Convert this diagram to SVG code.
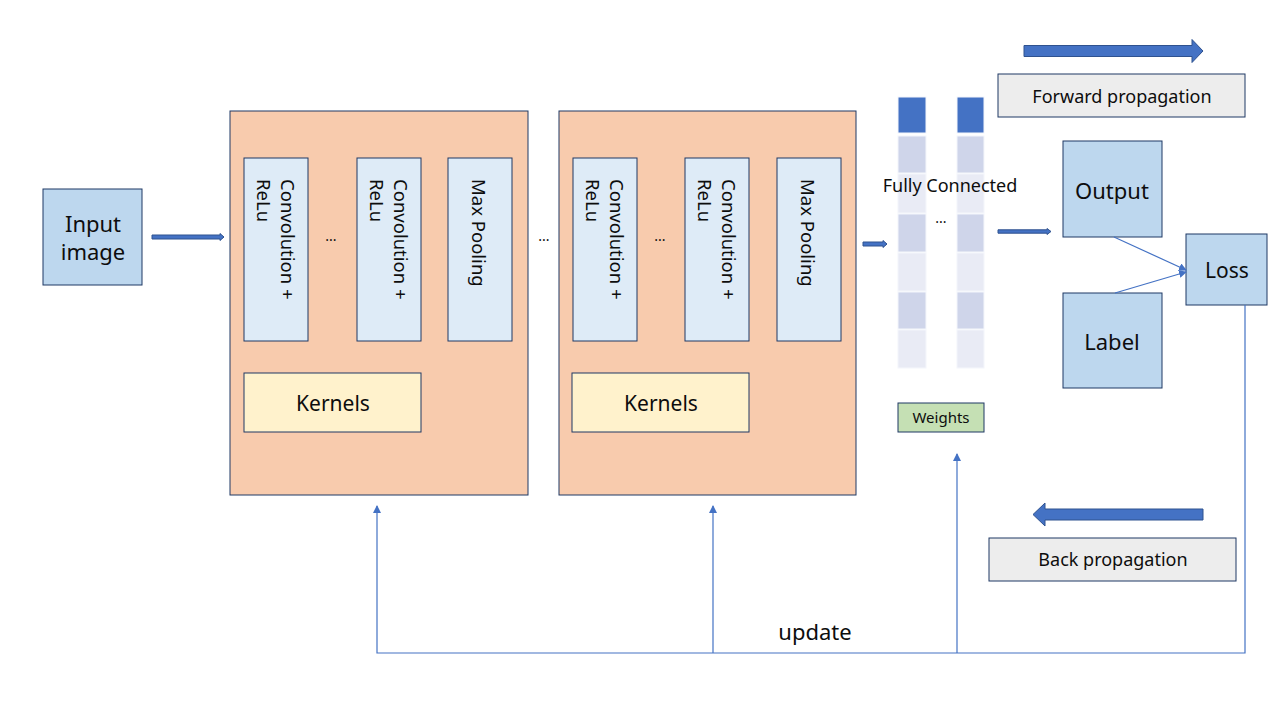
<svg xmlns="http://www.w3.org/2000/svg" width="1280" height="720" viewBox="0 0 1280 720">
<style>
text{font-family:"Noto Sans","Open Sans","Liberation Sans",sans-serif;fill:#0d0d0d}
.nav{stroke:#1f3864;stroke-width:1}
.blk{fill:#f8cbad}
.lb{fill:#deebf7}
.mb{fill:#bdd7ee}
.ker{fill:#fff2cc}
.gr{fill:#ededed}
.ba{fill:#4472c4;stroke:#2f528f;stroke-width:1}
.ln{stroke:#4472c4;stroke-width:1.2;fill:none}
.rot{font-size:18.5px}
.dk{fill:#4472c4}
.md{fill:#cfd5ea}
.lt{fill:#e9ebf5}
</style>
<defs>
<marker id="ah" markerWidth="8" markerHeight="8" refX="7" refY="4" orient="auto" markerUnits="userSpaceOnUse">
<path d="M0,0 L8,4 L0,8 Z" fill="#4472c4"/>
</marker>
</defs>
<rect width="1280" height="720" fill="#fff"/>

<g id="input">
<rect x="43" y="189" width="99" height="96" class="mb nav"/>
<text x="93" y="232" font-size="22" text-anchor="middle">Input</text>
<text x="93" y="260" font-size="22" text-anchor="middle">image</text>
</g>

<g id="block1">
<rect x="230" y="111" width="298" height="384" class="blk nav"/>
<rect x="244" y="158" width="64" height="183" class="lb nav"/>
<text class="rot" transform="translate(281,179) rotate(90)">Convolution +</text>
<text class="rot" transform="translate(257,179) rotate(90)">ReLu</text>
<text x="331" y="241" font-size="14" text-anchor="middle">...</text>
<rect x="357" y="158" width="64" height="183" class="lb nav"/>
<text class="rot" transform="translate(394,179) rotate(90)">Convolution +</text>
<text class="rot" transform="translate(370,179) rotate(90)">ReLu</text>
<rect x="448" y="158" width="64" height="183" class="lb nav"/>
<text class="rot" transform="translate(472,179) rotate(90)">Max Pooling</text>
<rect x="244" y="373" width="177" height="59" class="ker nav"/>
<text x="333" y="411" font-size="21" text-anchor="middle">Kernels</text>
</g>

<text x="544" y="241" font-size="14" text-anchor="middle">...</text>

<g id="block2">
<rect x="559" y="111" width="297" height="384" class="blk nav"/>
<rect x="573" y="158" width="64" height="183" class="lb nav"/>
<text class="rot" transform="translate(610,179) rotate(90)">Convolution +</text>
<text class="rot" transform="translate(586,179) rotate(90)">ReLu</text>
<text x="660" y="241" font-size="14" text-anchor="middle">...</text>
<rect x="685" y="158" width="64" height="183" class="lb nav"/>
<text class="rot" transform="translate(722,179) rotate(90)">Convolution +</text>
<text class="rot" transform="translate(698,179) rotate(90)">ReLu</text>
<rect x="777" y="158" width="64" height="183" class="lb nav"/>
<text class="rot" transform="translate(801,179) rotate(90)">Max Pooling</text>
<rect x="572" y="373" width="177" height="59" class="ker nav"/>
<text x="661" y="411" font-size="21" text-anchor="middle">Kernels</text>
</g>

<g id="fc">
<g stroke="#f4f6fb" stroke-width="1">
<rect x="898" y="97" width="28" height="36" class="dk"/>
<rect x="898" y="136" width="28" height="37" class="md"/>
<rect x="898" y="174" width="28" height="39" class="lt"/>
<rect x="898" y="214" width="28" height="38" class="md"/>
<rect x="898" y="253" width="28" height="38" class="lt"/>
<rect x="898" y="292" width="28" height="37" class="md"/>
<rect x="898" y="330" width="28" height="38" class="lt"/>
<rect x="957" y="97" width="27" height="36" class="dk"/>
<rect x="957" y="136" width="27" height="37" class="md"/>
<rect x="957" y="174" width="27" height="39" class="lt"/>
<rect x="957" y="214" width="27" height="38" class="md"/>
<rect x="957" y="253" width="27" height="38" class="lt"/>
<rect x="957" y="292" width="27" height="37" class="md"/>
<rect x="957" y="330" width="27" height="38" class="lt"/>
</g>
<text x="950" y="192" font-size="18" text-anchor="middle">Fully Connected</text>
<text x="941" y="223" font-size="14" text-anchor="middle">...</text>
</g>

<g id="weights">
<rect x="898" y="403" width="86" height="29" fill="#c5e0b4" class="nav"/>
<text x="941" y="423" font-size="15" text-anchor="middle">Weights</text>
</g>

<g id="output">
<rect x="1063" y="141" width="99" height="96" class="mb nav"/>
<text x="1112" y="199" font-size="22" text-anchor="middle">Output</text>
</g>
<g id="label">
<rect x="1063" y="293" width="99" height="95" class="mb nav"/>
<text x="1112" y="350" font-size="22" text-anchor="middle">Label</text>
</g>
<g id="loss">
<rect x="1186" y="234" width="81" height="71" class="mb nav"/>
<text x="1227" y="278" font-size="21" text-anchor="middle">Loss</text>
</g>

<g id="legend-forward">
<polygon class="ba" points="1024,45.5 1192,45.5 1192,39.5 1203,51 1192,62.5 1192,56.5 1024,56.5"/>
<rect x="998" y="74" width="247" height="43" class="gr nav"/>
<text x="1122" y="103" font-size="18" text-anchor="middle">Forward propagation</text>
</g>
<g id="legend-back">
<polygon class="ba" points="1203,509 1045,509 1045,503 1033,514.5 1045,526 1045,520 1203,520"/>
<rect x="989" y="538" width="247" height="43" class="gr nav"/>
<text x="1113" y="566" font-size="18" text-anchor="middle">Back propagation</text>
</g>

<g id="connectors">
<polygon class="ba" points="152,235 220,235 220,233.5 224,237 220,240.5 220,239 152,239"/>
<polygon class="ba" points="863,242 883,242 883,240.5 887,244 883,247.5 883,246 863,246"/>
<polygon class="ba" points="998,229.8 1047,229.8 1047,228.5 1051,231.5 1047,234.5 1047,233.2 998,233.2"/>
<line x1="1114" y1="237" x2="1186" y2="270" class="ln" marker-end="url(#ah)"/>
<line x1="1115" y1="293" x2="1186" y2="272" class="ln" marker-end="url(#ah)"/>
<polyline points="1245,305 1245,653 377,653 377,506" class="ln" marker-end="url(#ah)"/>
<line x1="713" y1="653" x2="713" y2="506" class="ln" marker-end="url(#ah)"/>
<line x1="957" y1="653" x2="957" y2="454" class="ln" marker-end="url(#ah)"/>
<text x="815" y="640" font-size="22" text-anchor="middle">update</text>
</g>
</svg>
